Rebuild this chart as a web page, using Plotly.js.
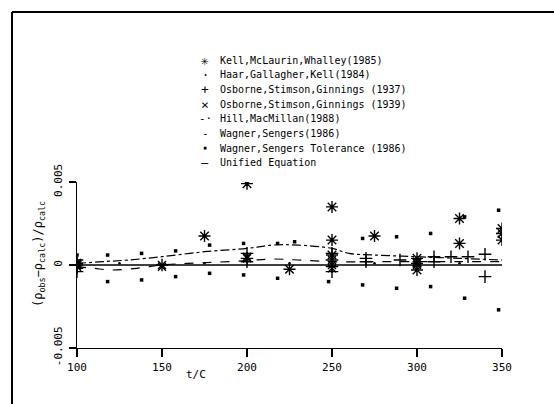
<!DOCTYPE html>
<html>
<head>
<meta charset="utf-8">
<script src="https://cdn.plot.ly/plotly-3.0.1.min.js"></script>
<style>html,body{margin:0;padding:0;background:#fff;}#chart{width:554px;height:404px;}</style>
</head>
<body>
<div id="chart"></div>
<script>
// Kell, McLaurin, Whalley (1985) - asterisks
const kellT = [100, 100, 175, 200, 225, 250, 250, 250, 275, 300, 300, 300, 325, 325, 350, 350, 350];
const kellV = [0.0000, 0.0001, 0.00175, 0.0049, -0.00026, 0.0035, 0.0015, 0.0006, 0.00175, 0.0004, 0.0001, -0.0003, 0.0028, 0.0013, 0.0022, 0.0019, 0.0015];
// Haar, Gallagher, Kell (1984) - dots
const haarT = [125, 175, 225, 275, 325];
const haarV = [0.0001, 0.0001, 0.0001, 0.0001, 0.0001];
// Osborne, Stimson, Ginnings (1937) - plus
const os37T = [100, 100, 100, 150, 200, 200, 200, 250, 250, 250, 250, 270, 270, 290, 310, 310, 320, 330, 340, 340];
const os37V = [0.0003, -0.0002, -0.0004, 0.0000, 0.0007, 0.0004, 0.0002, 0.0007, 0.0003, -0.0001, -0.0004, 0.0004, 0.0002, 0.0003, 0.0005, 0.0002, 0.0005, 0.0005, 0.00065, -0.0007];
// Osborne, Stimson, Ginnings (1939) - crosses
const os39T = [100, 100, 100, 150, 150, 200, 200, 250, 250, 250, 300, 300];
const os39V = [0.0001, -0.0001, 0.0000, -0.0001, 0.0000, 0.0004, 0.0005, 0.0003, 0.0000, -0.0002, 0.0002, 0.0000];
// Hill, MacMillan (1988) - dash-dot curve
const hillT = [100, 115, 130, 150, 175, 200, 215, 230, 250, 260, 275, 300, 325, 350];
const hillV = [0.0001, 0.0002, 0.0003, 0.0005, 0.0008, 0.0010, 0.0012, 0.0012, 0.0010, 0.0007, 0.0006, 0.0005, 0.0004, 0.0003];
// Wagner, Sengers (1986) - dashed curve
const wsT = [100, 110, 120, 135, 150, 165, 180, 200, 215, 230, 250, 275, 300, 325, 350];
const wsV = [-0.0001, -0.0002, -0.0003, -0.0002, 0.0000, 0.0001, 0.00016, 0.00026, 0.00036, 0.0003, 0.0002, 0.0002, 0.0002, 0.0002, 0.0002];
// Wagner, Sengers Tolerance (1986) - small marks
const tolT = [100, 118, 118, 138, 138, 158, 158, 178, 178, 198, 198, 218, 218, 228, 248, 268, 268, 288, 288, 308, 308, 328, 328, 348, 348];
const tolV = [0.0006, 0.0006, -0.0010, 0.0007, -0.0009, 0.00085, -0.0007, 0.0012, -0.0005, 0.0013, -0.0006, 0.0013, -0.0008, 0.0014, -0.0010, 0.0016, -0.0012, 0.0017, -0.0014, 0.0019, -0.0013, 0.0029, -0.0020, 0.0033, -0.0027];
// Unified Equation - reference line
const uniT = [100, 350];
const uniV = [0, 0];

const names = [
  "Kell,McLaurin,Whalley(1985)",
  "Haar,Gallagher,Kell(1984)",
  "Osborne,Stimson,Ginnings (1937)",
  "Osborne,Stimson,Ginnings (1939)",
  "Hill,MacMillan(1988)",
  "Wagner,Sengers(1986)",
  "Wagner,Sengers Tolerance (1986)",
  "Unified Equation"
];
const legendSymbols = ["✳", "·", "+", "×", "-·", "-", "▪", "—"];
const legendSymbolSizes = [13, 12, 13, 13, 11, 11, 7, 12];
const xTicks = [100, 150, 200, 250, 300, 350];
const yTicks = [-0.005, 0, 0.005];
const yTickText = ["-0.005", "0", "0.005"];
const yTitle = "(ρ<sub>obs</sub>−ρ<sub>calc</sub>)/ρ<sub>calc</sub>";
const xTitle = "t/C";

const FONT = "DejaVu Sans Mono, monospace";
const K = "#000";

const traces = [
  {x: kellT, y: kellV, name: names[0], mode: "markers", type: "scatter",
   marker: {symbol: "asterisk-open", size: 10, color: K, line: {color: K, width: 1.4}}},
  {x: haarT, y: haarV, name: names[1], mode: "markers", type: "scatter",
   marker: {symbol: "circle", size: 2.5, color: K}},
  {x: os37T, y: os37V, name: names[2], mode: "markers", type: "scatter",
   marker: {symbol: "cross-thin-open", size: 9, color: K, line: {color: K, width: 1.4}}},
  {x: os39T, y: os39V, name: names[3], mode: "markers", type: "scatter",
   marker: {symbol: "x-thin-open", size: 8, color: K, line: {color: K, width: 1.4}}},
  {x: hillT, y: hillV, name: names[4], mode: "lines", type: "scatter", line: {shape: "spline",
   color: K, width: 1.2, dash: "dashdot"}},
  {x: wsT, y: wsV, name: names[5], mode: "lines", type: "scatter", line: {shape: "spline",
   color: K, width: 1.2, dash: "dash"}},
  {x: tolT, y: tolV, name: names[6], mode: "markers", type: "scatter",
   marker: {symbol: "square", size: 3.5, color: K}},
  {x: uniT, y: uniV, name: names[7], mode: "lines", type: "scatter",
   line: {color: K, width: 1.5}}
];

// legend drawn as text annotations (plot margins: l=77, plot width 425, bottom 348, height 166)
const W = 425, H = 166, L = 77, B = 348;
const px2x = p => (p - L) / W;
const py2y = p => (B - p) / H;
const annotations = [];
names.forEach((n, i) => {
  const yy = py2y(60 + i * 14.7);
  annotations.push({text: legendSymbols[i], xref: "paper", yref: "paper", x: px2x(205), y: yy,
    xanchor: "center", yanchor: "middle", showarrow: false,
    font: {family: FONT, size: legendSymbolSizes[i], color: K}});
  annotations.push({text: n, xref: "paper", yref: "paper", x: px2x(218), y: yy,
    xanchor: "left", yanchor: "middle", showarrow: false,
    font: {family: FONT, size: 10, color: K}});
});
annotations.push({text: xTitle, xref: "paper", yref: "paper", x: px2x(196), y: py2y(366),
  xanchor: "center", yanchor: "top", showarrow: false,
  font: {family: FONT, size: 11, color: K}});
annotations.push({text: yTitle, xref: "paper", yref: "paper", x: px2x(39), y: py2y(254),
  xanchor: "center", yanchor: "middle", showarrow: false, textangle: -90,
  font: {family: FONT, size: 12, color: K}});

const layout = {
  width: 554, height: 404,
  margin: {l: 77, r: 52, t: 182, b: 56, pad: 0},
  paper_bgcolor: "#fff", plot_bgcolor: "rgba(0,0,0,0)",
  font: {family: FONT, size: 11, color: K},
  showlegend: false,
  xaxis: {range: [100, 350], tickvals: xTicks, ticktext: xTicks.map(String),
    showline: true, linecolor: K, linewidth: 1.3, ticks: "outside", ticklen: 8,
    tickwidth: 1.3, tickcolor: K, showgrid: false, zeroline: false,
    tickfont: {family: FONT, size: 11, color: K}},
  yaxis: {range: [-0.005, 0.005], tickvals: yTicks, ticktext: yTickText,
    showline: true, linecolor: K, linewidth: 1.3, ticks: "outside", ticklen: 7,
    tickwidth: 1.3, tickcolor: K, showgrid: false, zeroline: false, tickangle: -90,
    ticklabelstandoff: 2,
    tickfont: {family: FONT, size: 11, color: K}},
  annotations: annotations,
  shapes: [
    {type: "line", xref: "paper", yref: "paper", x0: px2x(12), x1: px2x(12), y0: py2y(12), y1: py2y(410),
     line: {color: K, width: 2}},
    {type: "line", xref: "paper", yref: "paper", x0: px2x(12), x1: px2x(560), y0: py2y(12), y1: py2y(12),
     line: {color: K, width: 2}}
  ]
};

Plotly.newPlot("chart", traces, layout, {displayModeBar: false, staticPlot: true});
</script>
</body>
</html>
